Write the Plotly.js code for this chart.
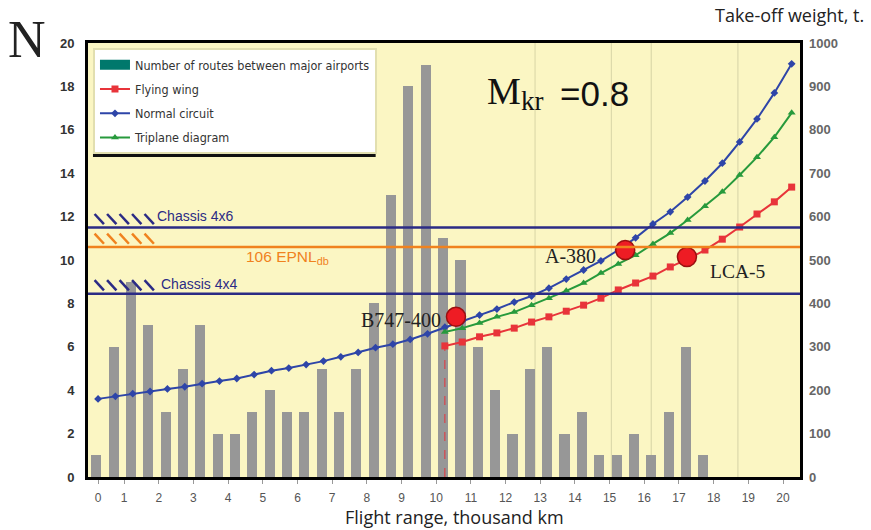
<!DOCTYPE html>
<html>
<head>
<meta charset="utf-8">
<script src="https://cdn.plot.ly/plotly-3.0.1.min.js"></script>
<style>html,body{margin:0;padding:0;background:#fff;}#chart{width:871px;height:530px;}</style>
</head>
<body>
<div id="chart"></div>
<script>
// ---- Data ----
// Number of routes between major airports (bars, left axis N)
const barX = [0.2,0.7,1.2,1.7,2.2,2.7,3.2,3.7,4.2,4.7,5.2,5.7,6.2,6.7,7.2,7.7,8.2,8.7,9.2,9.7,10.2,10.7,11.2,11.7,12.2,12.7,13.2,13.7,14.2,14.7,15.2,15.7,16.2,16.7,17.2,17.7];
const routes = [1,6,9,7,3,5,7,2,2,3,4,3,3,5,3,5,8,13,18,19,11,10,6,4,2,5,6,2,3,1,1,2,1,3,6,1];

// Take-off weight curves (right axis, t)
const normalX = [0.25,0.75,1.25,1.75,2.25,2.75,3.25,3.75,4.25,4.75,5.25,5.75,6.25,6.75,7.25,7.75,8.25,8.75,9.25,9.75,10.25,10.75,11.25,11.75,12.25,12.75,13.25,13.75,14.25,14.75,15.25,15.75,16.25,16.75,17.25,17.75,18.25,18.75,19.25,19.75,20.25];
const normalW = [180,186,192,197,203,208,215,221,227,236,245,251,259,267,277,287,298,306,317,330,345,359,373,387,403,417,435,456,477,498,523,551,583,611,645,682,723,772,825,885,952];
const wingX = [10.25,10.75,11.25,11.75,12.25,12.75,13.25,13.75,14.25,14.75,15.25,15.75,16.25,16.75,17.25,17.75,18.25,18.75,19.25,19.75,20.25];
const wingW = [302,311,323,332,343,357,369,382,396,412,431,447,463,484,502,523,548,576,606,634,668];
const triW  = [334,343,355,369,380,396,412,429,447,470,491,511,537,562,592,624,657,696,737,783,839];

// Aircraft points
const acNames = ["B747-400","A-380","LCA-5"];
const acX = [10.57,15.45,17.23];
const acW = [369,523,507];

// Constraint levels (left axis, N)
const levelNames = ["Chassis 4x6","106 EPNL<sub>db</sub>","Chassis 4x4"];
const levelN = [11.5,10.6,8.45];
const levelColors = ["#2b2b85","#f0821e","#2b2b85"];

// Axis tick labels
const xTickVals = [0.25,1,2,3,4,5,6,7,8,9,10,11,12,13,14,15,16,17,18,19,20];
const xTickText = ["0","1","2","3","4","5","6","7","8","9","10","11","12","13","14","15","16","17","18","19","20"];
const gridX = [12.85,15.05,16.2,18.7];

// ---- Traces ----
const traces = [
  {x:[null], y:[null], type:'scatter', mode:'lines', name:'Number of routes between major airports',
   line:{color:'#00786c', width:10}, legendgroup:'a', hoverinfo:'skip'},
  {x:wingX, y:wingW, yaxis:'y2', type:'scatter', mode:'lines+markers', name:'Flying wing',
   line:{color:'#e8343a', width:2}, marker:{symbol:'square', size:7, color:'#e8343a'}, legendgroup:'b'},
  {x:normalX, y:normalW, yaxis:'y2', type:'scatter', mode:'lines+markers', name:'Normal circuit',
   line:{color:'#2e45a8', width:2}, marker:{symbol:'diamond', size:6, color:'#2e45a8'}, legendgroup:'c'},
  {x:wingX, y:triW, yaxis:'y2', type:'scatter', mode:'lines+markers', name:'Triplane diagram',
   line:{color:'#279a3c', width:2}, marker:{symbol:'triangle-up', size:7, color:'#279a3c'}, legendgroup:'d'},
  {x:barX, y:routes, type:'bar', width:0.29, marker:{color:'#979797'}, showlegend:false, name:'routes'},
  {x:acX, y:acW, yaxis:'y2', type:'scatter', mode:'markers', showlegend:false,
   marker:{size:19, color:'#ee1c24', line:{color:'#9a1010', width:1.5}}}
];

// ---- Shapes ----
const shapes = [];
gridX.forEach(gx => shapes.push({type:'line', xref:'x', yref:'paper', x0:gx, x1:gx, y0:0, y1:1,
  line:{color:'rgba(170,170,130,0.45)', width:1}, layer:'below'}));
levelN.forEach((lv,i) => {
  shapes.push({type:'line', xref:'paper', yref:'y', x0:0, x1:1, y0:lv, y1:lv,
    line:{color:levelColors[i], width:2.5}, layer:'above'});
  for (let k=0;k<5;k++){
    const x0 = 0.15 + k*0.36;
    shapes.push({type:'line', xref:'x', yref:'y', x0:x0, x1:x0+0.27, y0:lv+0.62, y1:lv+0.15,
      line:{color:levelColors[i], width:2.5}, layer:'above'});
  }
});
// red dashed drop line at start of flying wing curve
shapes.push({type:'line', xref:'x', yref:'y2', x0:wingX[0], x1:wingX[0], y0:0, y1:wingW[0],
  line:{color:'#e8343a', width:1, dash:'dash'}});
// dark bottom edge under legend
shapes.push({type:'line', xref:'paper', yref:'paper', x0:0.007, x1:0.404, y0:0.741, y1:0.741,
  line:{color:'#111', width:3}, layer:'above'});

// ---- Annotations ----
const annotations = [
  {xref:'paper', yref:'paper', x:-0.086, y:1.007, xanchor:'center', yanchor:'middle', text:'N', showarrow:false,
   font:{family:'Liberation Serif, serif', size:52, color:'#222'}},
  {xref:'paper', yref:'paper', x:0.985, y:1.0645, xanchor:'center', yanchor:'middle', text:'Take-off weight, t.', showarrow:false,
   font:{family:'Open Sans, sans-serif', size:18, color:'#222'}},
  {xref:'paper', yref:'paper', x:0.515, y:-0.092, xanchor:'center', yanchor:'middle', text:'Flight range, thousand km', showarrow:false,
   font:{family:'Open Sans, sans-serif', size:18, color:'#222'}},
  // M_kr = 0.8
  {xref:'paper', yref:'paper', x:(485-88)/712, y:1-(91-43)/434, xanchor:'left', yanchor:'middle', showarrow:false,
   text:'M', font:{family:'Liberation Serif, serif', size:38, color:'#111'}},
  {xref:'paper', yref:'paper', x:(519-88)/712, y:1-(101-43)/434, xanchor:'left', yanchor:'middle', showarrow:false,
   text:'kr', font:{family:'Liberation Serif, serif', size:27, color:'#111'}},
  {xref:'paper', yref:'paper', x:(558-88)/712, y:1-(93-43)/434, xanchor:'left', yanchor:'middle', showarrow:false,
   text:'=0.8', font:{family:'Liberation Sans, sans-serif', size:35, color:'#111'}},
  {xref:'x', yref:'y', x:1.89, y:levelN[0], yshift:11, xanchor:'left', showarrow:false, text:levelNames[0],
   font:{family:'Liberation Sans, sans-serif', size:14, color:levelColors[0]}},
  {xref:'x', yref:'y', x:4.45, y:levelN[1], yshift:-11, xanchor:'left', showarrow:false, text:levelNames[1],
   font:{family:'Liberation Sans, sans-serif', size:15.5, color:levelColors[1]}},
  {xref:'x', yref:'y', x:2.01, y:levelN[2], yshift:10, xanchor:'left', showarrow:false, text:levelNames[2],
   font:{family:'Liberation Sans, sans-serif', size:14, color:levelColors[2]}},
  {xref:'x', yref:'y2', x:acX[0], y:acW[0], xanchor:'right', xshift:-13, yshift:-3, showarrow:false, text:acNames[0],
   font:{family:'Liberation Serif, serif', size:20, color:'#222'}},
  {xref:'x', yref:'y2', x:acX[1], y:acW[1], xanchor:'right', xshift:-27, yshift:-6, showarrow:false, text:acNames[1],
   font:{family:'Liberation Serif, serif', size:20, color:'#222'}},
  {xref:'x', yref:'y2', x:acX[2], y:acW[2], xanchor:'left', xshift:21, yshift:-15, showarrow:false, text:acNames[2],
   font:{family:'Liberation Serif, serif', size:19.5, color:'#222'}}
];

const layout = {
  width:871, height:530,
  margin:{l:88, r:71, t:43, b:53},
  paper_bgcolor:'#ffffff', plot_bgcolor:'#fbf6c3',
  showlegend:true,
  legend:{x:0.007, y:0.988, xanchor:'left', yanchor:'top', bgcolor:'#ffffff',
    bordercolor:'#e2dfb0', borderwidth:2, tracegroupgap:5,
    font:{family:'Liberation Sans Narrow, DejaVu Sans Condensed, sans-serif', size:12.5, color:'#333'}},
  bargap:0,
  xaxis:{range:[-0.04,20.49], tickmode:'array', tickvals:xTickVals, ticktext:xTickText,
    showline:true, linecolor:'#000', linewidth:3, mirror:true, showgrid:false, zeroline:false,
    ticks:'outside', ticklen:4, tickcolor:'#999', ticklabelstandoff:4,
    tickfont:{family:'Liberation Sans, sans-serif', size:12, color:'#555'}},
  yaxis:{range:[0,20], tickmode:'array', tickvals:[0,2,4,6,8,10,12,14,16,18,20],
    showline:true, linecolor:'#000', linewidth:3, mirror:true, showgrid:false, zeroline:false,
    ticks:'', ticklabelstandoff:8,
    tickfont:{family:'Liberation Sans, sans-serif', size:13, color:'#333', weight:'bold'}},
  yaxis2:{range:[0,1000], overlaying:'y', side:'right', tickmode:'linear', tick0:0, dtick:100,
    showline:false, showgrid:false, zeroline:false, ticks:'', ticklabelstandoff:8,
    tickfont:{family:'Liberation Sans, sans-serif', size:13, color:'#666', weight:'bold'}},
  shapes:shapes,
  annotations:annotations
};

Plotly.newPlot('chart', traces, layout, {displayModeBar:false, staticPlot:true});
</script>
</body>
</html>
